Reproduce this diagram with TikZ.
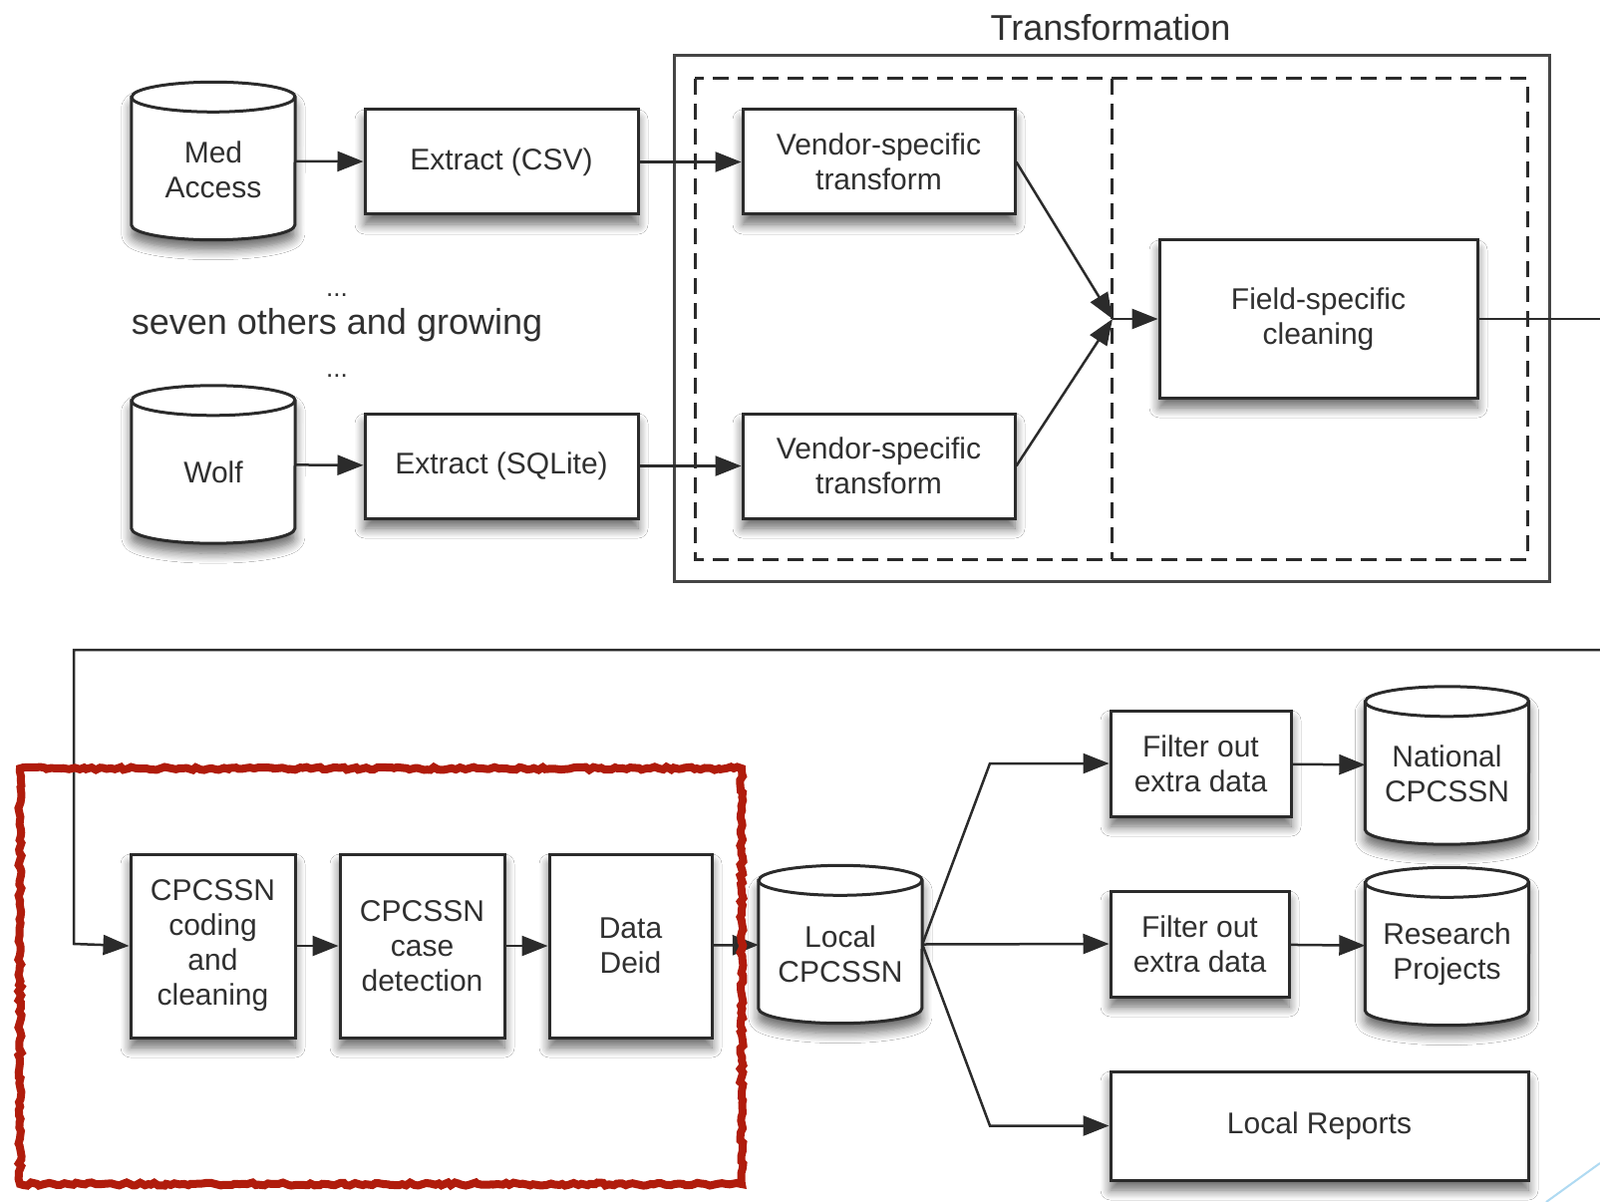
\documentclass[tikz,border=0pt]{standalone}
\usepackage{fontspec}
\setmainfont{Liberation Sans}
\usetikzlibrary{arrows.meta,shadows.blur,calc,decorations.pathmorphing}
\definecolor{ln}{HTML}{2B2B2B}
\definecolor{tx}{HTML}{303030}
\definecolor{frame}{HTML}{454545}
\definecolor{redbox}{RGB}{176,28,12}
\definecolor{bluish}{RGB}{175,218,242}
\tikzset{
  shd/.style={blur shadow={shadow xshift=0pt, shadow yshift=-10pt, shadow blur radius=10pt, shadow blur steps=8, shadow opacity=60}},
  proc/.style={draw=ln, line width=3pt, fill=white, rectangle, align=center, text=tx,
    font=\fontsize{30}{35}\selectfont, inner sep=0pt, shd},
  dbnode/.style={rectangle, inner sep=0pt, minimum width=164pt, minimum height=158pt},
  dbtext/.style={align=center, text=tx, font=\fontsize{30}{35}\selectfont, inner sep=0pt},
  flow/.style={draw=ln, line width=2.5pt, -{Triangle[length=26pt,width=20pt]}},
  plainline/.style={draw=ln, line width=2.5pt},
  bigtext/.style={text=tx, font=\fontsize{36}{40}\selectfont, inner sep=0pt},
  dash box/.style={draw=ln, line width=3pt, dash pattern=on 16pt off 9pt},
}
\newcommand{\dbcyl}[1]{%
  \path[fill=white, shd] ($(#1.north west)+(0,-15)$) -- ($(#1.south west)+(0,15)$)
     arc[start angle=180, end angle=360, x radius=82pt, y radius=15pt]
     -- ($(#1.north east)+(0,-15)$)
     arc[start angle=0, end angle=180, x radius=82pt, y radius=15pt] -- cycle;
  \draw[ln, line width=3pt] ($(#1.north west)+(0,-15)$) -- ($(#1.south west)+(0,15)$)
     arc[start angle=180, end angle=360, x radius=82pt, y radius=15pt]
     -- ($(#1.north east)+(0,-15)$)
     arc[start angle=0, end angle=180, x radius=82pt, y radius=15pt] -- cycle;
  \draw[ln, line width=3pt] ($(#1.north west)+(0,-15)$)
     arc[start angle=180, end angle=360, x radius=82pt, y radius=15pt];
}
\begin{document}
\begin{tikzpicture}[x=1pt, y=1pt]
\fill[white] (0,0) rectangle (1605,-1206);
\useasboundingbox (0,0) rectangle (1605,-1206);

% Transformation frame
\draw[frame, line width=3pt] (676,-56) rectangle (1554,-583);
\node[bigtext] (ttl) at (1114,-28) {Transformation};
\draw[dash box] (697,-79) rectangle (1532,-561);
\draw[dash box] (1115,-79) -- (1115,-561);

% sources
\node[dbnode] (med) at (214,-161.5) {};
\dbcyl{med}
\node[dbtext] (medT) at (214,-170) {Med\\Access};
\node[dbnode] (wolf) at (214,-466) {};
\dbcyl{wolf}
\node[dbtext] (wolfT) at (214,-474) {Wolf};

\node[bigtext] (dots1) at (338,-296) {\fontsize{26}{30}\selectfont ...};
\node[bigtext] (seven) at (338,-326) {seven others and growing};
\node[bigtext] (dots2) at (338,-377) {\fontsize{26}{30}\selectfont ...};

\node[proc, minimum width=274pt, minimum height=105pt] (csv) at (503,-162.5) {Extract (CSV)};
\node[proc, minimum width=274pt, minimum height=105pt] (sql) at (503,-467.5) {Extract (SQLite)};
\node[proc, minimum width=273pt, minimum height=105pt] (ven1) at (881.5,-162.5) {Vendor-specific\\transform};
\node[proc, minimum width=273pt, minimum height=105pt] (ven2) at (881.5,-467.5) {Vendor-specific\\transform};
\node[proc, minimum width=319pt, minimum height=158pt] (field) at (1322.5,-320) {Field-specific\\cleaning};
\coordinate (merge) at (1116,-320);
\coordinate (outR) at (1605,-320);

\draw[flow] (med) -- (csv);
\draw[flow] (wolf) -- (sql);
\draw[flow] (csv) -- (ven1);
\draw[flow] (sql) -- (ven2);
\draw[flow] (ven1.east) -- (merge);
\draw[flow] (ven2.east) -- (merge);
\draw[flow] (merge) -- (field);
\draw[plainline] (field) -- (outR);

% bottom row
\node[proc, minimum width=165pt, minimum height=184pt] (coding) at (213.5,-949) {CPCSSN\\coding\\and\\cleaning};
\node[proc, minimum width=165pt, minimum height=184pt] (casedet) at (423.5,-949) {CPCSSN\\case\\detection};
\node[proc, minimum width=163pt, minimum height=184pt] (deid) at (632.5,-949) {Data\\Deid};
\node[dbnode] (local) at (843,-947.5) {};
\dbcyl{local}
\node[dbtext] (localT) at (843,-957) {Local\\CPCSSN};

\node[proc, minimum width=181pt, minimum height=106pt] (filt1) at (1204.5,-766) {Filter out\\extra data};
\node[proc, minimum width=179pt, minimum height=106pt] (filt2) at (1203.5,-947) {Filter out\\extra data};
\node[proc, minimum width=419pt, minimum height=109pt] (reports) at (1323.5,-1129.5) {Local Reports};
\node[dbnode] (natl) at (1451.5,-768) {};
\dbcyl{natl}
\node[dbtext] (natlT) at (1451.5,-776) {National\\CPCSSN};
\node[dbnode] (res) at (1451.5,-949.5) {};
\dbcyl{res}
\node[dbtext] (resT) at (1451.5,-957) {Research\\Projects};

\coordinate (inR) at (1605,-652);
\draw[flow] (inR) -- (74,-652) -- (74,-947) -- (coding.west);
\draw[flow] (coding) -- (casedet);
\draw[flow] (casedet) -- (deid);
\draw[flow] (deid) -- (local);
\draw[flow] (local.east) -- (993,-766) -- (filt1.west);
\draw[flow] (local.east) -- (filt2.west);
\draw[flow] (local.east) -- (993,-1129.5) -- (reports.west);
\draw[flow] (filt1) -- (natl);
\draw[flow] (filt2) -- (res);

% red highlight
\draw[redbox, line width=8pt, decorate, decoration={random steps, segment length=4pt, amplitude=1.6pt}]
  (20,-771) rectangle (744,-1188);

% faint blue stroke in the corner
\draw[bluish, line width=2pt] (1551,-1206) -- (1605,-1167);
\end{tikzpicture}
\end{document}
